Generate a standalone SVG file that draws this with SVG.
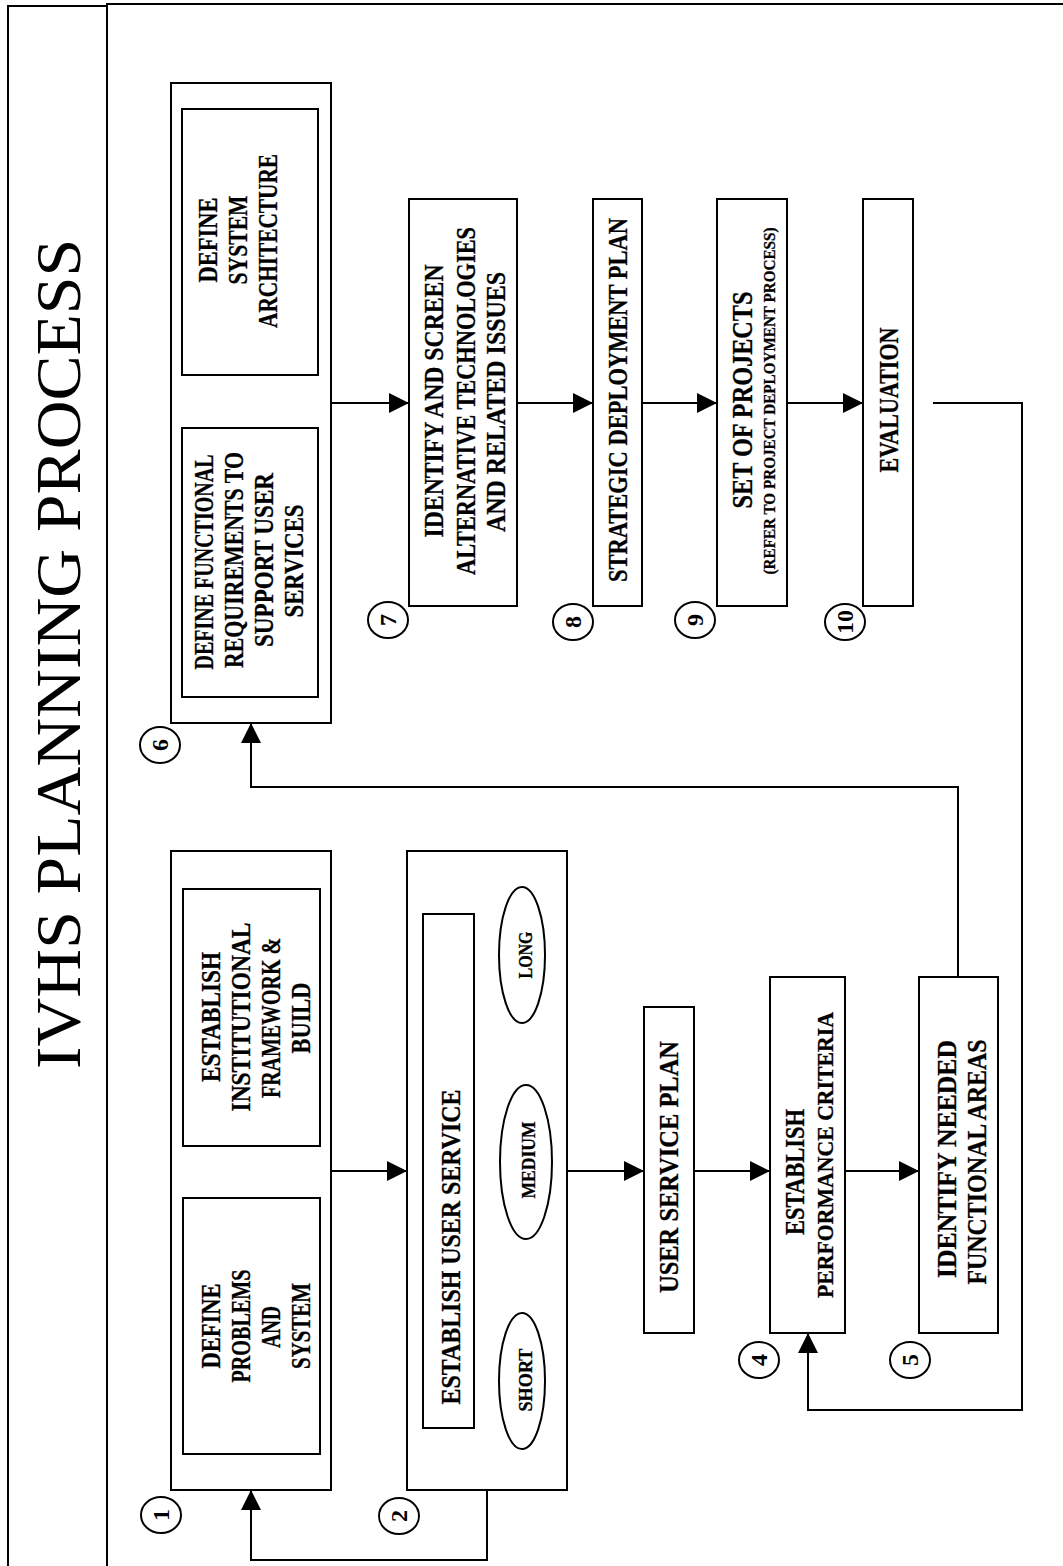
<svg xmlns="http://www.w3.org/2000/svg" width="1063" height="1566" viewBox="0 0 1063 1566">
  <style>
    .frame { fill: none; stroke: #000; stroke-width: 2; }
    .box { fill: #fff; stroke: #000; stroke-width: 2; }
    .line { fill: none; stroke: #000; stroke-width: 2; }
    .lbl { font-family: "Liberation Serif", "Times New Roman", serif; font-weight: bold; font-size: 27px; fill: #000; stroke: #000; stroke-width: 0.3; text-anchor: middle; }
    .small { font-size: 19px; }
    .tiny { font-size: 17px; }
    .mid { font-size: 23px; }
    .big { font-size: 29px; }
    .num { font-family: "Liberation Serif", "Times New Roman", serif; font-weight: bold; font-size: 24px; fill: #000; text-anchor: middle; }
    .title { font-family: "Liberation Serif", "Times New Roman", serif; font-size: 64px; fill: #000; text-anchor: middle; }
  </style>
  <defs>
    <marker id="arrow" markerUnits="userSpaceOnUse" markerWidth="20" markerHeight="20" refX="20" refY="10" orient="auto">
      <path d="M0,0 L20,10 L0,20 z" fill="#000"/>
    </marker>
    <marker id="arrowStart" markerUnits="userSpaceOnUse" markerWidth="20" markerHeight="20" refX="20" refY="10" orient="auto-start-reverse">
      <path d="M0,0 L20,10 L0,20 z" fill="#000"/>
    </marker>
  </defs>

  <rect width="1063" height="1566" fill="#fff"/>

  <!-- page frame: title strip and drawing area -->
  <g id="frame">
    <path class="frame" d="M8,1570 V6 H107"/>
    <path class="frame" d="M107,1570 V4 H1070"/>
    <text class="title" transform="translate(80,654) rotate(-90)" textLength="830" lengthAdjust="spacingAndGlyphs">IVHS PLANNING PROCESS</text>
  </g>

  <!-- connectors -->
  <g id="connectors">
    <line class="line" x1="331" y1="1171" x2="407" y2="1171" marker-end="url(#arrow)"/>
    <line class="line" x1="567" y1="1171" x2="644" y2="1171" marker-end="url(#arrow)"/>
    <line class="line" x1="694" y1="1171" x2="770" y2="1171" marker-end="url(#arrow)"/>
    <line class="line" x1="845" y1="1171" x2="919" y2="1171" marker-end="url(#arrow)"/>
    <polyline class="line" points="958,977 958,787 251,787 251,723" marker-end="url(#arrow)"/>
    <line class="line" x1="331" y1="403" x2="409" y2="403" marker-end="url(#arrow)"/>
    <line class="line" x1="517" y1="403" x2="593" y2="403" marker-end="url(#arrow)"/>
    <line class="line" x1="642" y1="403" x2="717" y2="403" marker-end="url(#arrow)"/>
    <line class="line" x1="787" y1="403" x2="863" y2="403" marker-end="url(#arrow)"/>
    <polyline class="line" points="933,403 1022,403 1022,1410 808,1410 808,1333" marker-end="url(#arrow)"/>
    <polyline class="line" points="487,1490 487,1560 251,1560 251,1490" marker-end="url(#arrow)"/>
    <line class="line" x1="249" y1="1146" x2="249" y2="1198" marker-start="url(#arrowStart)" marker-end="url(#arrow)"/>
    <line class="line" x1="251" y1="375" x2="251" y2="428" marker-start="url(#arrowStart)" marker-end="url(#arrow)"/>
  </g>

  <!-- step 1 -->
  <g id="step1">
    <rect class="box" x="171" y="851" width="160" height="639"/>
    <rect class="box" x="183" y="889" width="137" height="257"/>
    <text class="lbl" transform="translate(220,1017) rotate(-90)" textLength="130" lengthAdjust="spacingAndGlyphs">ESTABLISH</text>
    <text class="lbl" transform="translate(250,1017) rotate(-90)" textLength="189" lengthAdjust="spacingAndGlyphs">INSTITUTIONAL</text>
    <text class="lbl" transform="translate(280,1018) rotate(-90)" textLength="160" lengthAdjust="spacingAndGlyphs">FRAMEWORK &amp;</text>
    <text class="lbl" transform="translate(310,1018) rotate(-90)" textLength="71" lengthAdjust="spacingAndGlyphs">BUILD</text>
    <rect class="box" x="183" y="1198" width="137" height="256"/>
    <text class="lbl" transform="translate(220,1326) rotate(-90)" textLength="85" lengthAdjust="spacingAndGlyphs">DEFINE</text>
    <text class="lbl" transform="translate(250,1326) rotate(-90)" textLength="113" lengthAdjust="spacingAndGlyphs">PROBLEMS</text>
    <text class="lbl" transform="translate(280,1327) rotate(-90)" textLength="42" lengthAdjust="spacingAndGlyphs">AND</text>
    <text class="lbl" transform="translate(310,1326) rotate(-90)" textLength="86" lengthAdjust="spacingAndGlyphs">SYSTEM</text>
    <ellipse class="frame" cx="161" cy="1515" rx="20" ry="18"/>
    <text class="num" transform="translate(169,1515) rotate(-90)">1</text>
  </g>

  <!-- step 2 -->
  <g id="step2">
    <rect class="box" x="407" y="851" width="160" height="639"/>
    <rect class="box" x="423" y="914" width="51" height="514"/>
    <text class="lbl" transform="translate(460,1247) rotate(-90)" textLength="315" lengthAdjust="spacingAndGlyphs">ESTABLISH USER SERVICE</text>
    <ellipse class="frame" cx="522" cy="955" rx="23" ry="68"/>
    <text class="lbl small" transform="translate(532,955) rotate(-90)" textLength="47" lengthAdjust="spacingAndGlyphs">LONG</text>
    <ellipse class="frame" cx="526" cy="1162" rx="26" ry="77"/>
    <text class="lbl small" transform="translate(535,1160) rotate(-90)" textLength="77" lengthAdjust="spacingAndGlyphs">MEDIUM</text>
    <ellipse class="frame" cx="522" cy="1381" rx="23" ry="68"/>
    <text class="lbl small" transform="translate(532,1380) rotate(-90)" textLength="63" lengthAdjust="spacingAndGlyphs">SHORT</text>
    <ellipse class="frame" cx="399" cy="1516" rx="20" ry="18"/>
    <text class="num" transform="translate(407,1516) rotate(-90)">2</text>
  </g>

  <!-- step 3 -->
  <g id="step3">
    <rect class="box" x="644" y="1007" width="50" height="326"/>
    <text class="lbl" transform="translate(678,1167) rotate(-90)" textLength="252" lengthAdjust="spacingAndGlyphs">USER SERVICE PLAN</text>
  </g>

  <!-- step 4 -->
  <g id="step4">
    <rect class="box" x="770" y="977" width="75" height="356"/>
    <text class="lbl" transform="translate(804,1172) rotate(-90)" textLength="126" lengthAdjust="spacingAndGlyphs">ESTABLISH</text>
    <text class="lbl mid" transform="translate(833,1155) rotate(-90)" textLength="286" lengthAdjust="spacingAndGlyphs">PERFORMANCE CRITERIA</text>
    <ellipse class="frame" cx="759" cy="1360" rx="20" ry="18"/>
    <text class="num" transform="translate(767,1360) rotate(-90)">4</text>
  </g>

  <!-- step 5 -->
  <g id="step5">
    <rect class="box" x="919" y="977" width="79" height="356"/>
    <text class="lbl" transform="translate(956,1159) rotate(-90)" textLength="238" lengthAdjust="spacingAndGlyphs">IDENTIFY NEEDED</text>
    <text class="lbl" transform="translate(986,1162) rotate(-90)" textLength="245" lengthAdjust="spacingAndGlyphs">FUNCTIONAL AREAS</text>
    <ellipse class="frame" cx="910" cy="1360" rx="20" ry="18"/>
    <text class="num" transform="translate(918,1360) rotate(-90)">5</text>
  </g>

  <!-- step 6 -->
  <g id="step6">
    <rect class="box" x="171" y="83" width="160" height="640"/>
    <rect class="box" x="182" y="109" width="136" height="266"/>
    <text class="lbl" transform="translate(217,240) rotate(-90)" textLength="85" lengthAdjust="spacingAndGlyphs">DEFINE</text>
    <text class="lbl" transform="translate(247,240) rotate(-90)" textLength="89" lengthAdjust="spacingAndGlyphs">SYSTEM</text>
    <text class="lbl" transform="translate(277,241) rotate(-90)" textLength="174" lengthAdjust="spacingAndGlyphs">ARCHITECTURE</text>
    <rect class="box" x="182" y="428" width="136" height="269"/>
    <text class="lbl" transform="translate(213,562) rotate(-90)" textLength="215" lengthAdjust="spacingAndGlyphs">DEFINE FUNCTIONAL</text>
    <text class="lbl" transform="translate(243,560) rotate(-90)" textLength="216" lengthAdjust="spacingAndGlyphs">REQUIREMENTS TO</text>
    <text class="lbl" transform="translate(273,560) rotate(-90)" textLength="174" lengthAdjust="spacingAndGlyphs">SUPPORT USER</text>
    <text class="lbl" transform="translate(303,561) rotate(-90)" textLength="113" lengthAdjust="spacingAndGlyphs">SERVICES</text>
    <ellipse class="frame" cx="160" cy="745" rx="20" ry="18"/>
    <text class="num" transform="translate(168,745) rotate(-90)">6</text>
  </g>

  <!-- step 7 -->
  <g id="step7">
    <rect class="box" x="409" y="199" width="108" height="407"/>
    <text class="lbl" transform="translate(443,401) rotate(-90)" textLength="273" lengthAdjust="spacingAndGlyphs">IDENTIFY AND SCREEN</text>
    <text class="lbl" transform="translate(475,401) rotate(-90)" textLength="348" lengthAdjust="spacingAndGlyphs">ALTERNATIVE TECHNOLOGIES</text>
    <text class="lbl" transform="translate(505,402) rotate(-90)" textLength="260" lengthAdjust="spacingAndGlyphs">AND RELATED ISSUES</text>
    <ellipse class="frame" cx="388" cy="620" rx="20" ry="18"/>
    <text class="num" transform="translate(396,620) rotate(-90)">7</text>
  </g>

  <!-- step 8 -->
  <g id="step8">
    <rect class="box" x="593" y="199" width="49" height="407"/>
    <text class="lbl" transform="translate(627,400) rotate(-90)" textLength="364" lengthAdjust="spacingAndGlyphs">STRATEGIC DEPLOYMENT PLAN</text>
    <ellipse class="frame" cx="573" cy="622" rx="20" ry="18"/>
    <text class="num" transform="translate(581,622) rotate(-90)">8</text>
  </g>

  <!-- step 9 -->
  <g id="step9">
    <rect class="box" x="717" y="199" width="70" height="407"/>
    <text class="lbl big" transform="translate(752,400) rotate(-90)" textLength="217" lengthAdjust="spacingAndGlyphs">SET OF PROJECTS</text>
    <text class="lbl tiny" transform="translate(775,401) rotate(-90)" textLength="347" lengthAdjust="spacingAndGlyphs">(REFER TO PROJECT DEPLOYMENT PROCESS)</text>
    <ellipse class="frame" cx="695" cy="620" rx="20" ry="18"/>
    <text class="num" transform="translate(703,620) rotate(-90)">9</text>
  </g>

  <!-- step 10 -->
  <g id="step10">
    <rect class="box" x="863" y="199" width="50" height="407"/>
    <text class="lbl" transform="translate(898,400) rotate(-90)" textLength="145" lengthAdjust="spacingAndGlyphs">EVALUATION</text>
    <ellipse class="frame" cx="845" cy="622" rx="20" ry="18"/>
    <text class="num" transform="translate(853,622) rotate(-90)">10</text>
  </g>
</svg>
